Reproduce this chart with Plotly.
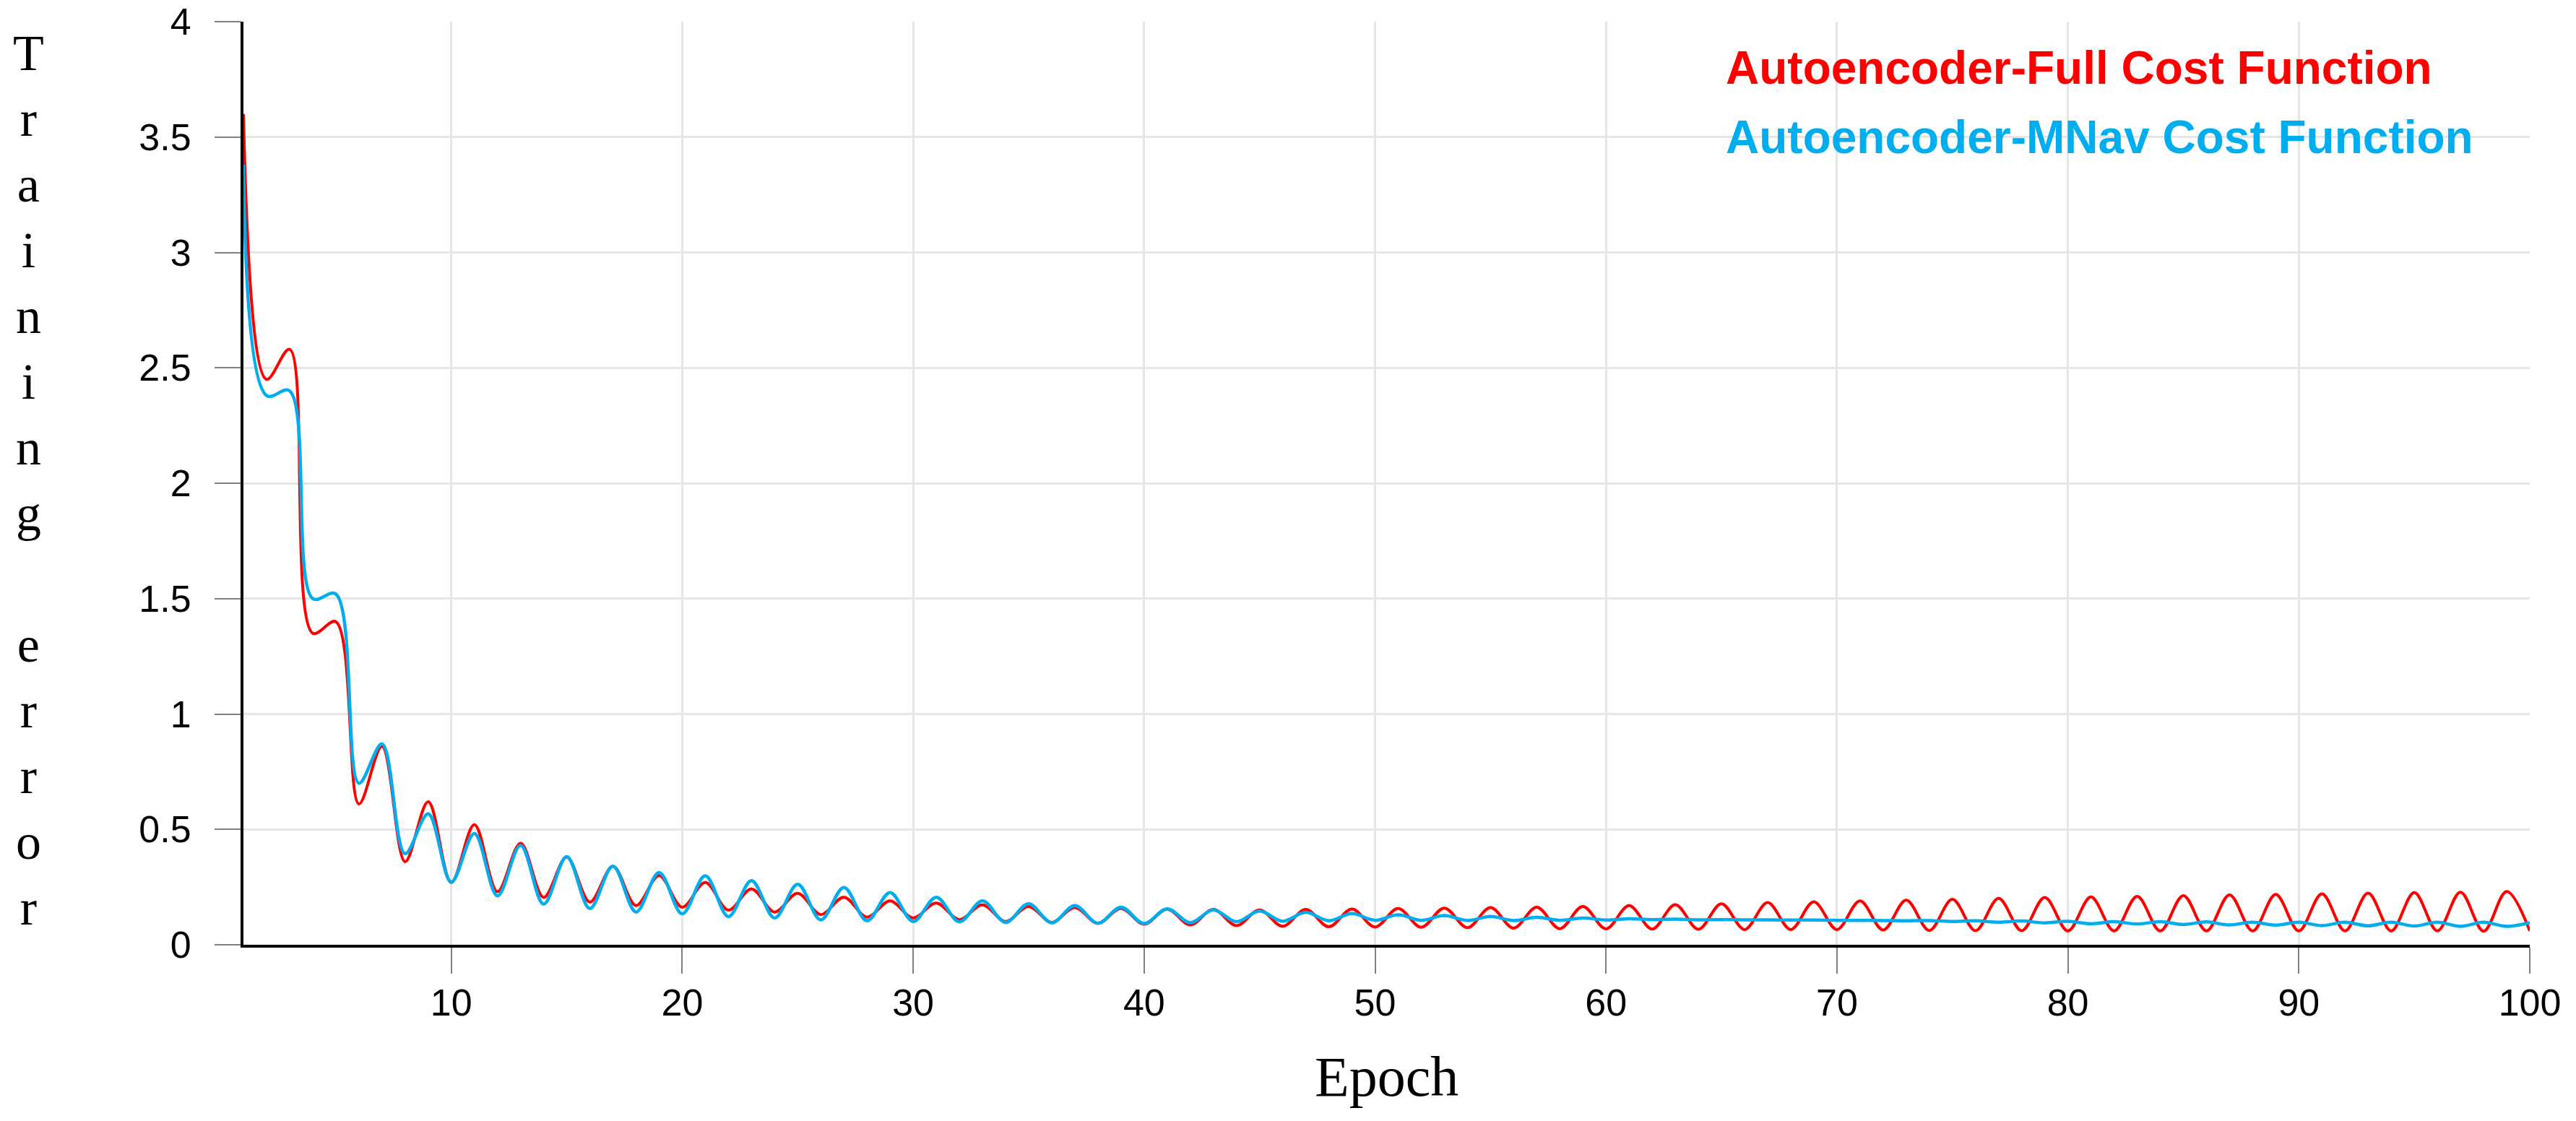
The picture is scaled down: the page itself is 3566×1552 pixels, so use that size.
import plotly.graph_objects as go

# Epochs and training error
epochs = list(range(1, 101))

full_cost = [
    3.60, 2.45, 2.58, 1.35, 1.40, 0.61, 0.86, 0.36, 0.62, 0.27,
    0.52, 0.23, 0.44, 0.205, 0.38, 0.185, 0.34, 0.17, 0.30, 0.163,
    0.27, 0.15, 0.242, 0.142, 0.223, 0.131, 0.206, 0.12, 0.19, 0.116,
    0.181, 0.109, 0.173, 0.101, 0.166, 0.097, 0.161, 0.093, 0.157, 0.089,
    0.154, 0.086, 0.153, 0.083, 0.151, 0.080, 0.153, 0.078, 0.155, 0.077,
    0.157, 0.076, 0.159, 0.074, 0.161, 0.072, 0.163, 0.070, 0.166, 0.069,
    0.170, 0.068, 0.174, 0.067, 0.178, 0.066, 0.183, 0.066, 0.186, 0.066,
    0.190, 0.064, 0.193, 0.062, 0.197, 0.061, 0.201, 0.061, 0.205, 0.060,
    0.207, 0.060, 0.210, 0.060, 0.213, 0.060, 0.216, 0.060, 0.218, 0.060,
    0.221, 0.060, 0.224, 0.060, 0.226, 0.060, 0.228, 0.059, 0.231, 0.060,
]

mnav_cost = [
    3.38, 2.38, 2.40, 1.50, 1.52, 0.70, 0.87, 0.395, 0.567, 0.272,
    0.482, 0.212, 0.43, 0.176, 0.382, 0.157, 0.34, 0.142, 0.313, 0.134,
    0.299, 0.122, 0.278, 0.116, 0.262, 0.108, 0.248, 0.104, 0.226, 0.101,
    0.206, 0.099, 0.190, 0.097, 0.178, 0.095, 0.170, 0.093, 0.163, 0.092,
    0.156, 0.096, 0.151, 0.100, 0.146, 0.102, 0.141, 0.104, 0.135, 0.106,
    0.130, 0.106, 0.127, 0.105, 0.123, 0.105, 0.119, 0.106, 0.116, 0.107,
    0.113, 0.109, 0.111, 0.108, 0.109, 0.108, 0.108, 0.107, 0.107, 0.106,
    0.106, 0.105, 0.104, 0.105, 0.101, 0.104, 0.098, 0.103, 0.095, 0.102,
    0.091, 0.100, 0.090, 0.100, 0.088, 0.099, 0.086, 0.098, 0.085, 0.098,
    0.083, 0.098, 0.082, 0.098, 0.081, 0.098, 0.080, 0.098, 0.080, 0.096,
]

series_names = ["Autoencoder-Full Cost Function", "Autoencoder-MNav Cost Function"]
series_colors = ["#FF0000", "#00AEEF"]

x_ticks = [10, 20, 30, 40, 50, 60, 70, 80, 90, 100]
y_ticks = [0, 0.5, 1, 1.5, 2, 2.5, 3, 3.5, 4]
y_tick_labels = ["0", "0.5", "1", "1.5", "2", "2.5", "3", "3.5", "4"]

fig = go.Figure()

fig.add_trace(go.Scatter(
    x=epochs, y=full_cost, mode="lines", name=series_names[0],
    line=dict(color=series_colors[0], width=4, shape="spline", smoothing=1),
))
fig.add_trace(go.Scatter(
    x=epochs, y=mnav_cost, mode="lines", name=series_names[1],
    line=dict(color=series_colors[1], width=4.5, shape="spline", smoothing=1),
))

# Legend drawn as coloured text, like the original
for i, (name, color) in enumerate(zip(series_names, series_colors)):
    fig.add_annotation(
        text=name, xref="paper", yref="paper", x=0.6476, y=0.950 - i * 0.0751,
        xanchor="left", yanchor="middle", showarrow=False,
        font=dict(family="Liberation Sans", size=64, color=color, weight="bold"),
    )

# Stacked y-axis title
y_title = "<br>".join(ch if ch != " " else "&nbsp;" for ch in "Training error")
fig.add_annotation(
    text=y_title, xref="paper", yref="paper", x=-0.094, y=0.503,
    xanchor="center", yanchor="middle", showarrow=False,
    font=dict(family="Liberation Serif", size=70, color="black"),
)
fig.add_annotation(
    text="Epoch", xref="paper", yref="paper", x=0.5, y=-0.143,
    xanchor="center", yanchor="middle", showarrow=False,
    font=dict(family="Liberation Serif", size=78, color="black"),
)

# the page body adds an 8px offset, so margins are shifted to compensate
fig.update_layout(
    width=3566, height=1552,
    margin=dict(l=329, r=72, t=22, b=252),
    plot_bgcolor="white", paper_bgcolor="white",
    showlegend=False,
    font=dict(family="Liberation Sans", size=52, color="black"),
)

fig.update_xaxes(
    range=[1, 100], tickvals=x_ticks, automargin=False, ticklabeloverflow="allow",
    showgrid=True, gridcolor="#E5E5E5", gridwidth=3,
    showline=True, linecolor="black", linewidth=4,
    ticks="outside", ticklen=36, tickwidth=2, tickcolor="#808080",
    zeroline=False, tickfont=dict(size=52), ticklabelstandoff=-4,
)
fig.update_yaxes(
    range=[0, 4], tickvals=y_ticks, ticktext=y_tick_labels, automargin=False,
    ticklabeloverflow="allow",
    showgrid=True, gridcolor="#E5E5E5", gridwidth=3,
    showline=True, linecolor="black", linewidth=4,
    ticks="outside", ticklen=36, tickwidth=2, tickcolor="#808080",
    zeroline=False, tickfont=dict(size=52), ticklabelstandoff=22,
)

fig.write_html("out.html")
